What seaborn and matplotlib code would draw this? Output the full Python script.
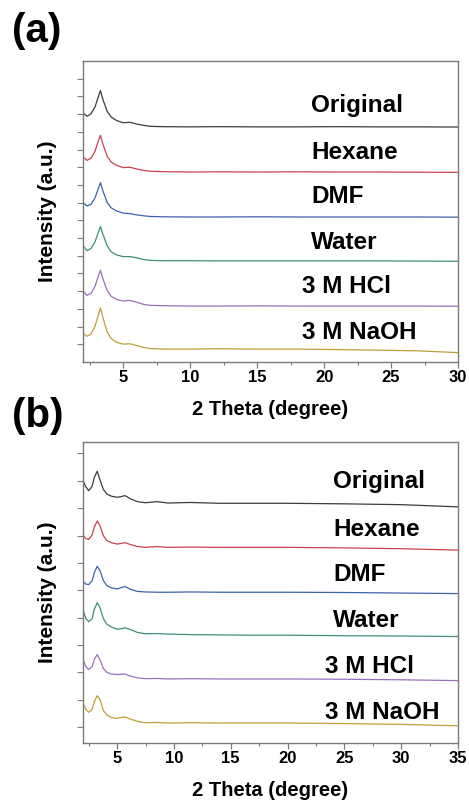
import numpy as np
import pandas as pd
import matplotlib
matplotlib.use("Agg")
import matplotlib.pyplot as plt
from matplotlib.ticker import MultipleLocator
import seaborn as sns

sns.set_style("white")
plt.rcParams['font.family'] = ['Liberation Sans', 'DejaVu Sans']
plt.rcParams['font.weight'] = 'bold'
plt.rcParams['text.color'] = 'black'
plt.rcParams['axes.labelcolor'] = 'black'
plt.rcParams['xtick.labelcolor'] = 'black'
plt.rcParams['ytick.labelcolor'] = 'black'

samples = ["Original", "Hexane", "DMF", "Water", "3 M HCl", "3 M NaOH"]
colors = ["#3c3c3c", "#c8414b", "#3a64a8", "#3f8f73", "#9b6fc0", "#bf9f3a"]

# ---- panel (a) ----
x_a = [2.0, 2.3, 2.6, 2.9, 3.1, 3.3, 3.5, 3.8, 4.1, 4.5, 5.0, 5.5, 6.0, 6.5,
       7.0, 8.0, 10.0, 12.0, 15.0, 18.0, 21.0, 24.0, 27.0, 30.0]
int_a_original = [0.79, 0.60, 0.74, 1.13, 1.60, 2.05, 1.52, 0.88, 0.56, 0.36, 0.23, 0.26,
                  0.16, 0.09, 0.03, 0.01, 0.00, 0.01, 0.00, 0.00, 0.01, 0.00, 0.00, -0.01]
int_a_hexane = [0.85, 0.66, 0.78, 1.18, 1.65, 2.07, 1.55, 0.90, 0.57, 0.38, 0.25, 0.27,
                0.17, 0.10, 0.04, 0.02, 0.00, 0.01, 0.00, 0.01, 0.00, 0.00, -0.01, -0.02]
int_a_dmf = [0.81, 0.62, 0.72, 1.08, 1.52, 1.94, 1.45, 0.82, 0.52, 0.34, 0.22, 0.19,
             0.12, 0.07, 0.03, 0.01, 0.00, 0.00, 0.01, 0.00, 0.00, 0.00, 0.00, -0.01]
int_a_water = [0.85, 0.58, 0.70, 1.08, 1.52, 1.94, 1.48, 0.86, 0.52, 0.34, 0.24, 0.24,
               0.18, 0.08, 0.03, 0.01, 0.01, 0.00, 0.00, 0.00, 0.00, 0.00, -0.01, -0.02]
int_a_hcl = [0.85, 0.60, 0.72, 1.12, 1.58, 2.02, 1.52, 0.88, 0.55, 0.38, 0.28, 0.32,
             0.22, 0.10, 0.04, 0.02, 0.00, 0.00, 0.01, 0.00, 0.00, 0.00, 0.00, -0.01]
int_a_naoh = [0.90, 0.72, 0.86, 1.30, 1.80, 2.32, 1.75, 0.98, 0.60, 0.38, 0.28, 0.30,
              0.20, 0.10, 0.03, 0.00, 0.00, 0.02, 0.00, 0.00, -0.03, -0.06, -0.10, -0.20]
offsets_a = [13.28, 10.73, 8.19, 5.71, 3.16, 0.73]

# ---- panel (b) ----
x_b = [2.0, 2.25, 2.5, 2.8, 3.0, 3.25, 3.5, 3.8, 4.1, 4.5, 5.0, 5.3, 5.7, 6.2,
       6.8, 7.5, 8.5, 9.5, 11.5, 14.0, 17.0, 20.0, 25.0, 30.0, 35.0]
int_b_original = [0.83, 0.60, 0.46, 0.62, 0.95, 1.17, 0.85, 0.50, 0.34, 0.26, 0.22, 0.24,
                  0.28, 0.16, 0.06, 0.02, 0.06, 0.01, 0.03, 0.00, 0.00, 0.00, -0.02, -0.05, -0.13]
int_b_hexane = [0.45, 0.32, 0.29, 0.45, 0.75, 0.96, 0.78, 0.42, 0.25, 0.17, 0.12, 0.14,
                0.17, 0.10, 0.03, 0.00, 0.03, 0.00, 0.01, 0.00, 0.00, 0.00, -0.02, -0.05, -0.10]
int_b_dmf = [0.40, 0.30, 0.28, 0.42, 0.72, 0.95, 0.78, 0.42, 0.24, 0.16, 0.12, 0.16,
             0.21, 0.10, 0.03, 0.01, 0.00, 0.00, 0.01, 0.00, 0.00, 0.00, -0.01, -0.03, -0.05]
int_b_water = [0.91, 0.62, 0.49, 0.60, 0.95, 1.19, 1.00, 0.60, 0.40, 0.30, 0.22, 0.23,
               0.27, 0.20, 0.10, 0.05, 0.06, 0.04, 0.02, 0.01, 0.00, 0.00, -0.02, -0.03, -0.05]
int_b_hcl = [0.70, 0.45, 0.34, 0.45, 0.72, 0.89, 0.70, 0.38, 0.24, 0.18, 0.16, 0.17,
             0.18, 0.10, 0.04, 0.01, 0.02, 0.00, 0.01, 0.00, 0.00, 0.00, -0.01, -0.03, -0.06]
int_b_naoh = [0.73, 0.50, 0.39, 0.50, 0.78, 1.00, 0.85, 0.45, 0.30, 0.20, 0.17, 0.20,
              0.22, 0.14, 0.06, 0.01, 0.02, 0.00, 0.01, 0.00, 0.00, 0.00, -0.02, -0.05, -0.10]
offsets_b = [8.76, 7.15, 5.51, 3.94, 2.34, 0.73]

ints_a = [int_a_original, int_a_hexane, int_a_dmf, int_a_water, int_a_hcl, int_a_naoh]
ints_b = [int_b_original, int_b_hexane, int_b_dmf, int_b_water, int_b_hcl, int_b_naoh]


def make_df(x, ints, offsets):
    rows = []
    for name, vals, off in zip(samples, ints, offsets):
        for xv, yv in zip(x, vals):
            rows.append({"theta": xv, "intensity": yv + off, "sample": name})
    return pd.DataFrame(rows)


df_a = make_df(x_a, ints_a, offsets_a)
df_b = make_df(x_b, ints_b, offsets_b)
palette = dict(zip(samples, colors))

W, H = 469, 805
fig = plt.figure(figsize=(W / 100, H / 100), dpi=100)

ax_a = fig.add_axes([83 / W, 1 - 362 / H, 375 / W, 301 / H])
ax_b = fig.add_axes([83 / W, 1 - 743 / H, 375 / W, 301 / H])

label_pos_a = [(0.608, 0.832), (0.608, 0.674), (0.608, 0.527), (0.608, 0.375), (0.584, 0.228), (0.584, 0.075)]
label_pos_b = [(0.667, 0.846), (0.667, 0.688), (0.667, 0.539), (0.667, 0.384), (0.645, 0.232), (0.645, 0.079)]

for ax, df, xlim, ylim, yticks, lpos in [
    (ax_a, df_a, (2, 30), (0, 17), np.arange(1, 17, 1.0), label_pos_a),
    (ax_b, df_b, (2, 35), (0, 11), np.arange(0.58, 11, 1.0), label_pos_b),
]:
    sns.lineplot(data=df, x="theta", y="intensity", hue="sample", palette=palette,
                 estimator=None, sort=False, linewidth=0.9, legend=False, ax=ax)
    ax.set_xlim(*xlim)
    ax.set_ylim(*ylim)
    ax.xaxis.set_major_locator(MultipleLocator(5))
    ax.xaxis.set_minor_locator(MultipleLocator(2.5))
    ax.set_yticks(yticks)
    ax.set_yticklabels([])
    for s in ax.spines.values():
        s.set_color("#7a7a7a")
        s.set_linewidth(1.0)
        s.set_visible(True)
    ax.tick_params(axis="x", which="major", direction="out", length=4, width=0.9,
                   color="#7a7a7a", labelcolor="black", labelsize=12, pad=2, bottom=True)
    ax.tick_params(axis="x", which="minor", direction="out", length=2, width=0.8,
                   color="#7a7a7a", bottom=True)
    ax.tick_params(axis="y", which="major", direction="out", length=4, width=0.8,
                   color="#7a7a7a", left=True)
    for t in ax.get_xticklabels():
        t.set_fontweight("bold")
    ax.set_xlabel("2 Theta (degree)", fontsize=14.5, fontweight="bold", color="black")
    ax.xaxis.set_label_coords(0.5, -0.125)
    ax.set_ylabel("Intensity (a.u.)", fontsize=15, fontweight="bold", color="black")
    ax.yaxis.set_label_coords(-0.07, 0.5)
    for name, (tx, ty) in zip(samples, lpos):
        ax.text(tx, ty, name, transform=ax.transAxes, fontsize=17.5,
                fontweight="bold", ha="left", va="baseline", color="black")

fig.text(12 / W, 1 - 31 / H, "(a)", fontsize=29, fontweight="bold", ha="left", va="center", color="black")
fig.text(12 / W, 1 - 416 / H, "(b)", fontsize=29, fontweight="bold", ha="left", va="center", color="black")

fig.savefig("out.png", dpi=100)
